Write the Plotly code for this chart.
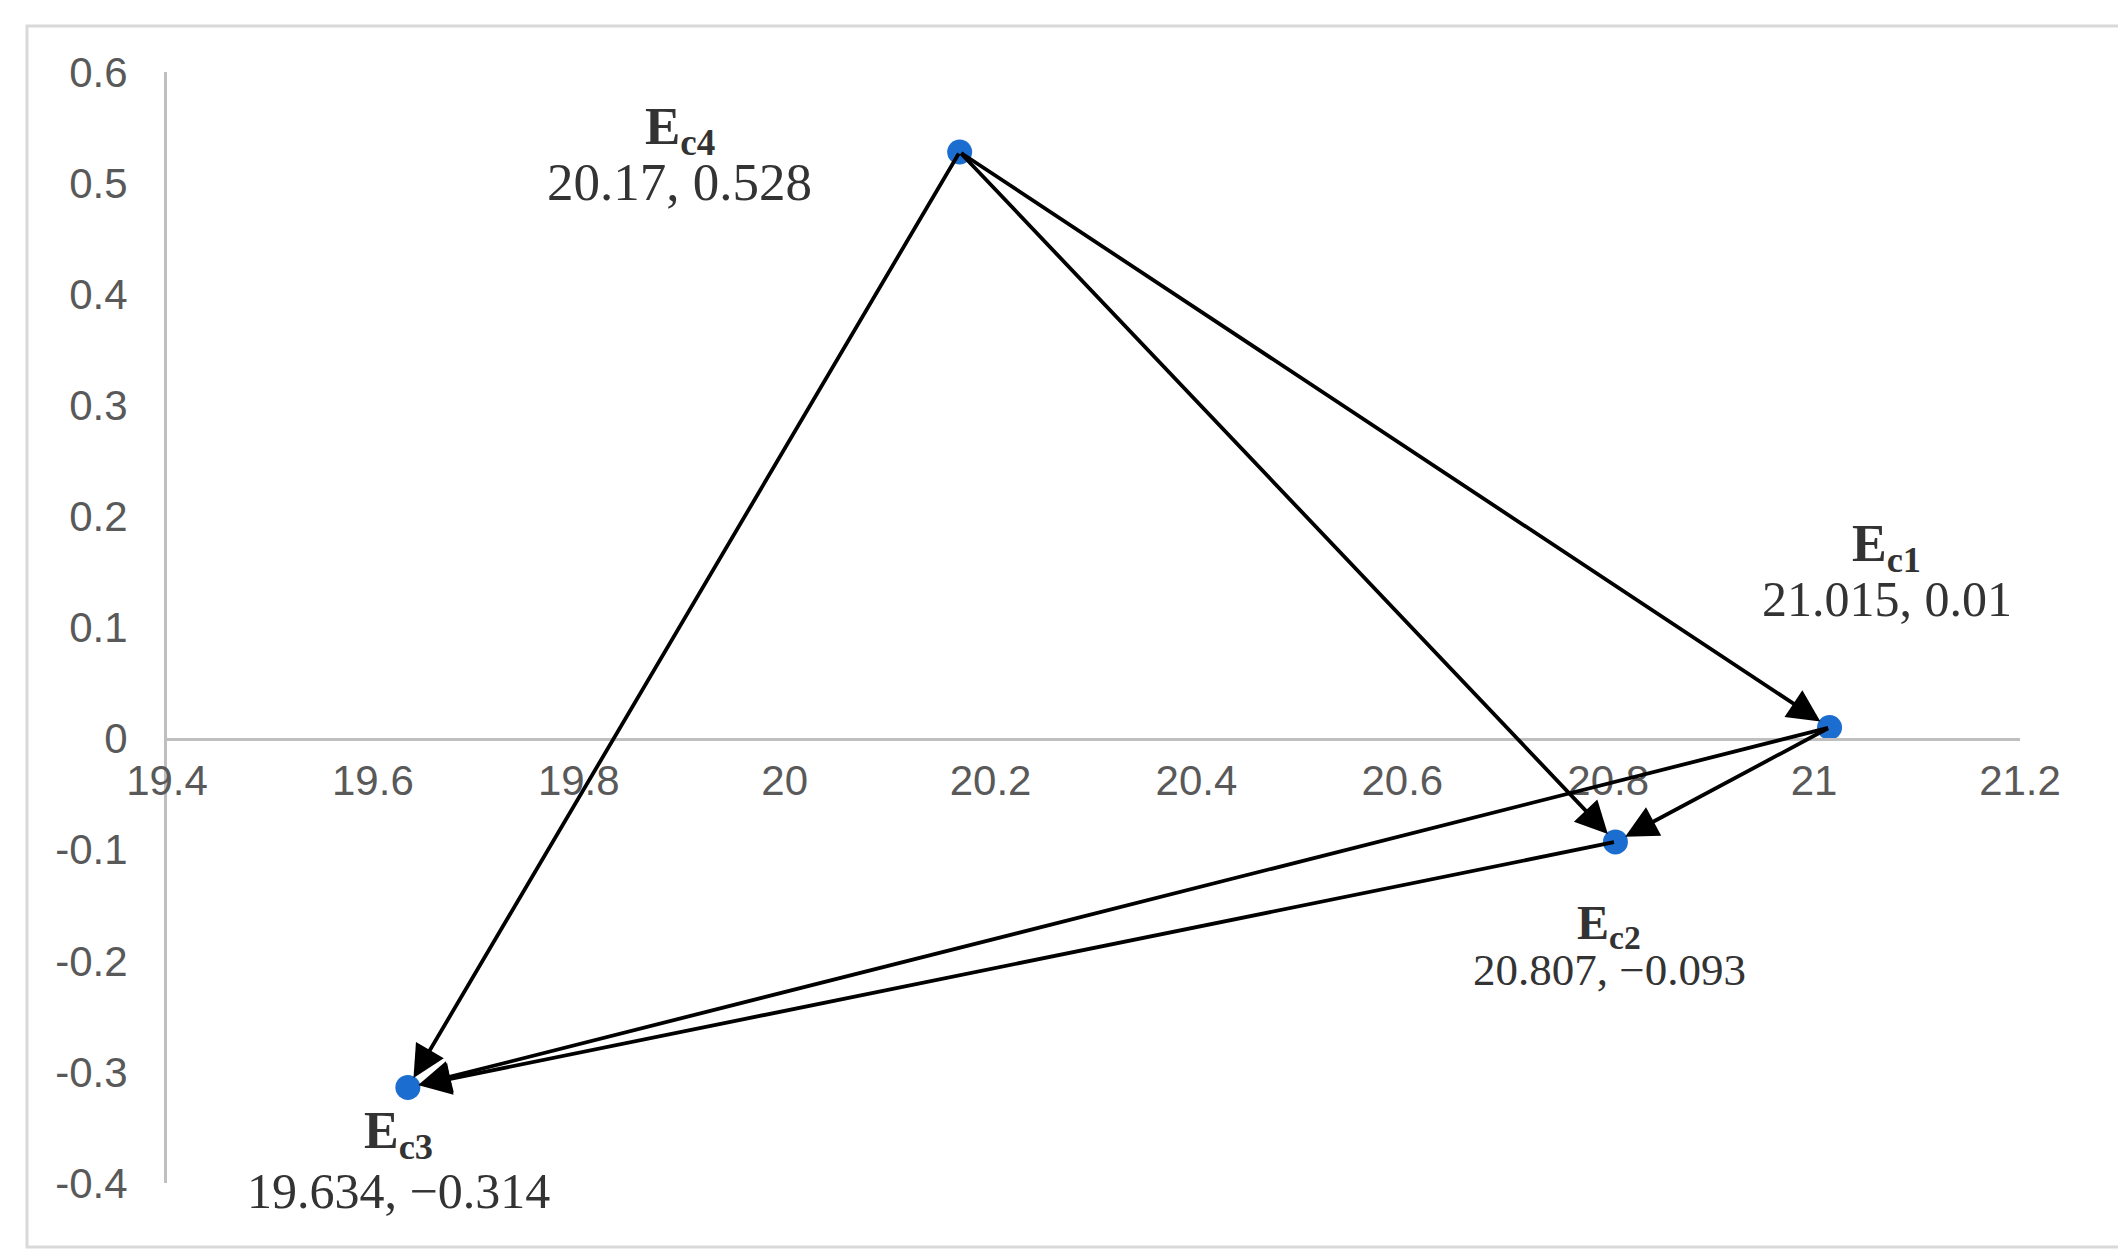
import plotly.graph_objects as go

# ---- data ----
names = ["c1", "c2", "c3", "c4"]
xs = [21.015, 20.807, 19.634, 20.17]
ys = [0.01, -0.093, -0.314, 0.528]
value_labels = ["21.015, 0.01", "20.807, \u22120.093", "19.634, \u22120.314", "20.17, 0.528"]
# transitions (from index -> to index)
arrows_from = [3, 3, 3, 0, 0, 1]
arrows_to = [2, 1, 0, 1, 2, 2]
x_ticks = [19.4, 19.6, 19.8, 20, 20.2, 20.4, 20.6, 20.8, 21, 21.2]
x_tick_text = ["19.4", "19.6", "19.8", "20", "20.2", "20.4", "20.6", "20.8", "21", "21.2"]
y_ticks = [-0.4, -0.3, -0.2, -0.1, 0, 0.1, 0.2, 0.3, 0.4, 0.5, 0.6]
y_tick_text = ["-0.4", "-0.3", "-0.2", "-0.1", "0", "0.1", "0.2", "0.3", "0.4", "0.5", "0.6"]

# label offsets in pixels (name line, value line) and font sizes
name_shift = [(57, 180), (-6, -84), (-9, -47), (-280, 22)]
val_shift = [(57, 128), (-6, -128), (-9, -104), (-280, -30)]
name_size = [52, 48, 52, 53]
val_size = [50, 45, 50, 53]

W, H = 2126, 1259
ML, MR, MT, MB = 159, 114, 64, 84

fig = go.Figure()
fig.add_trace(go.Scatter(
    x=xs, y=ys, mode="markers",
    marker=dict(size=25, color="#1C6DD0"),
    hoverinfo="x+y", showlegend=False,
))

annotations = []
for f, t in zip(arrows_from, arrows_to):
    annotations.append(dict(
        x=xs[t], y=ys[t], ax=xs[f], ay=ys[f],
        xref="x", yref="y", axref="x", ayref="y",
        showarrow=True, arrowhead=2, arrowsize=1.7, arrowwidth=3.8,
        arrowcolor="#000000", standoff=11, startstandoff=0, text="",
    ))

serif = "Liberation Serif, Times New Roman, serif"
for i in range(len(xs)):
    annotations.append(dict(
        x=xs[i], y=ys[i], xref="x", yref="y", showarrow=False,
        text="<b>E<sub>%s</sub></b>" % names[i],
        font=dict(family=serif, size=name_size[i], color="#333333"),
        xshift=name_shift[i][0], yshift=name_shift[i][1],
    ))
    annotations.append(dict(
        x=xs[i], y=ys[i], xref="x", yref="y", showarrow=False,
        text=value_labels[i],
        font=dict(family=serif, size=val_size[i], color="#333333"),
        xshift=val_shift[i][0], yshift=val_shift[i][1],
    ))

pw = W - ML - MR
ph = H - MT - MB
def px2paperx(p):
    return (p - ML) / pw
def py2papery(p):
    return (H - MB - p) / ph

tickfont = dict(family="Liberation Sans Narrow, Arial Narrow, Liberation Sans, sans-serif",
                size=42, color="#595959")

fig.update_layout(
    width=W, height=H,
    margin=dict(l=ML, r=MR, t=MT, b=MB),
    paper_bgcolor="white", plot_bgcolor="white",
    annotations=annotations,
    shapes=[dict(type="rect", xref="paper", yref="paper",
                 x0=px2paperx(19), x1=px2paperx(2118),
                 y0=py2papery(1239), y1=py2papery(18),
                 line=dict(color="#d9d9d9", width=3), layer="below")],
    xaxis=dict(range=[19.4, 21.2], tickvals=x_ticks, ticktext=x_tick_text,
               showgrid=False, zeroline=False, showline=True,
               linecolor="#bfbfbf", linewidth=3, ticks="",
               anchor="free", position=0.4, tickfont=tickfont,
               ticklabelstandoff=4),
    yaxis=dict(range=[-0.4, 0.6], tickvals=y_ticks, ticktext=y_tick_text,
               showgrid=False, zeroline=False, showline=True,
               linecolor="#bfbfbf", linewidth=3, ticks="",
               tickfont=tickfont, ticklabelstandoff=28),
)

fig.write_html("out.html")
